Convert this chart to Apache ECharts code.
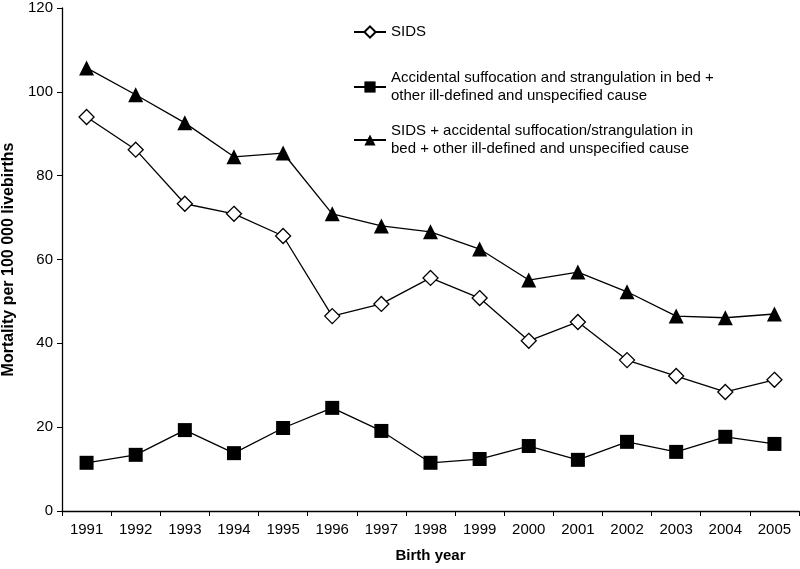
<!DOCTYPE html>
<html><head><meta charset="utf-8">
<script src="https://cdn.jsdelivr.net/npm/echarts@6/dist/echarts.min.js"></script>
<style>html,body{margin:0;padding:0;background:#fff}#c{width:800px;height:569px}</style>
</head><body><div id="c"></div>
<script>
var years = ['1991','1992','1993','1994','1995','1996','1997','1998','1999','2000','2001','2002','2003','2004','2005'];
var sidsName = 'SIDS';
var accName = 'Accidental suffocation and strangulation in bed +\nother ill-defined and unspecified cause';
var totName = 'SIDS + accidental suffocation/strangulation in\nbed + other ill-defined and unspecified cause';
var sids = [94.0, 86.2, 73.3, 70.9, 65.6, 46.5, 49.4, 55.6, 50.8, 40.6, 45.1, 36.0, 32.2, 28.4, 31.3];
var accidental = [11.5, 13.4, 19.3, 13.8, 19.8, 24.6, 19.1, 11.5, 12.4, 15.5, 12.2, 16.5, 14.1, 17.7, 16.0];
var total = [105.7, 99.3, 92.6, 84.5, 85.4, 70.9, 68.0, 66.6, 62.5, 55.1, 57.0, 52.3, 46.5, 46.1, 47.0];

var font = 'Liberation Sans, Arial, sans-serif';
var chart = echarts.init(document.getElementById('c'));
function legend(name, top, multi) {
  return {
    data: [name], left: 348, top: top, orient: 'vertical',
    itemWidth: 32, itemHeight: 14, itemGap: 0, selectedMode: false,
    textStyle: { fontFamily: font, fontSize: 15, color: '#000', lineHeight: 18,
      padding: multi ? [18, 0, 0, 0] : 0 }
  };
}
chart.setOption({
  animation: false,
  grid: { left: 62, right: 1, top: 8, bottom: 58, containLabel: false, outerBoundsMode: 'none' },
  legend: [legend(sidsName, 18, false), legend(accName, 55, true), legend(totName, 108, true)],
  xAxis: {
    type: 'category', data: years, boundaryGap: true,
    name: 'Birth year', nameLocation: 'middle', nameGap: 37,
    nameTextStyle: { fontFamily: font, fontSize: 15, fontWeight: 'bold', color: '#000' },
    axisLine: { lineStyle: { color: '#000', width: 1.3 } },
    axisTick: { show: true, length: 5, lineStyle: { color: '#000' } },
    axisLabel: { fontFamily: font, fontSize: 15, color: '#000', margin: 11 },
    splitLine: { show: false }
  },
  yAxis: {
    type: 'value', min: 0, max: 120, interval: 20,
    name: 'Mortality per 100 000 livebirths', nameLocation: 'middle', nameGap: 44, nameRotate: 90,
    nameTextStyle: { fontFamily: font, fontSize: 16, fontWeight: 'bold', color: '#000' },
    axisLine: { show: true, lineStyle: { color: '#000', width: 1.3 } },
    axisTick: { show: true, length: 5, lineStyle: { color: '#000' } },
    axisLabel: { fontFamily: font, fontSize: 15, color: '#000', margin: 9 },
    splitLine: { show: false }
  },
  series: [
    { name: sidsName, type: 'line', data: sids, symbol: 'diamond', symbolSize: 15,
      lineStyle: { color: '#000', width: 1.3 },
      itemStyle: { color: '#fff', borderColor: '#000', borderWidth: 1.3 } },
    { name: accName, type: 'line', data: accidental, symbol: 'rect', symbolSize: 14,
      lineStyle: { color: '#000', width: 1.3 },
      itemStyle: { color: '#000', borderColor: '#000', borderWidth: 0 } },
    { name: totName, type: 'line', data: total, symbol: 'triangle', symbolSize: 15,
      lineStyle: { color: '#000', width: 1.3 },
      itemStyle: { color: '#000', borderColor: '#000', borderWidth: 0 } }
  ]
});
</script></body></html>
